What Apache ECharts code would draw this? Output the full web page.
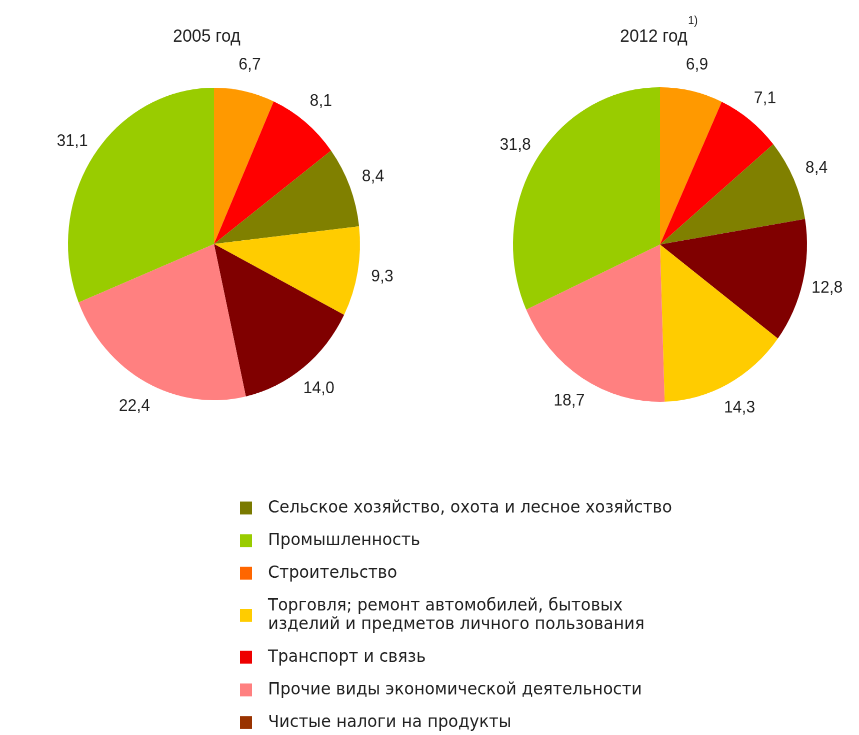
<!DOCTYPE html>
<html>
<head>
<meta charset="utf-8">
<script src="https://cdn.jsdelivr.net/npm/echarts@6/dist/echarts.min.js"></script>
<style>
html,body{margin:0;padding:0;background:#fff;width:859px;height:735px;overflow:hidden;}
#wrap{width:859px;height:735px;position:relative;overflow:hidden;}
#main{position:absolute;left:0;top:0;width:859px;height:687px;transform:scaleY(1.07);transform-origin:0 0;}
</style>
</head>
<body>
<div id="wrap"><div id="main"></div></div>
<script>
// ---- data ----
const categories = [
  'Сельское хозяйство, охота и лесное хозяйство',
  'Промышленность',
  'Строительство',
  'Торговля; ремонт автомобилей, бытовых изделий и предметов личного пользования',
  'Транспорт и связь',
  'Прочие виды экономической деятельности',
  'Чистые налоги на продукты'
];
const years = ['2005 год', '2012 год'];
const footnote = '1)';
// slice order (clockwise from top) as category indices, and values
const order2005 = [2, 4, 0, 3, 6, 5, 1];
const values2005 = [6.7, 8.1, 8.4, 9.3, 14.0, 22.4, 31.1];
const order2012 = [2, 4, 0, 6, 3, 5, 1];
const values2012 = [6.9, 7.1, 8.4, 12.8, 14.3, 18.7, 31.8];

// ---- styles ----
const FONT = 'Liberation Sans, Arial, sans-serif';
const sliceColors = ['#808000', '#99cc00', '#ff9900', '#ffcc00', '#ff0000', '#ff8080', '#800000'];
const legendColors = ['#7a7a00', '#99cc00', '#ff6600', '#ffcc00', '#ee0000', '#ff8080', '#993300'];
const colorOf = {};
categories.forEach((c, i) => colorOf[c] = sliceColors[i]);

function pieData(order, values) {
  return order.map((ci, k) => ({ name: categories[ci], value: values[k] }));
}

const labelLayout = function (p) {
  const pts = p.labelLinePoints;
  if (!pts || pts.length < 2) return {};
  const dx = pts[1][0] - pts[0][0], dy = pts[1][1] - pts[0][1];
  const len = Math.hypot(dx, dy) || 1;
  const ux = dx / len, uy = dy / len;
  const d = 25;
  return { x: pts[0][0] + ux * d, y: pts[0][1] + uy * d, align: 'center', verticalAlign: 'middle' };
};

function pieSeries(center, radius, order, values) {
  return {
    type: 'pie',
    center: center,
    radius: radius,
    startAngle: 90,
    clockwise: true,
    avoidLabelOverlap: false,
    data: pieData(order, values),
    itemStyle: { color: p => colorOf[p.name], borderWidth: 0 },
    label: {
      show: true,
      position: 'outside',
      formatter: p => p.value.toFixed(1).replace('.', ','),
      fontFamily: FONT,
      fontSize: 16,
      color: '#222'
    },
    labelLine: { show: true, length: 10, length2: 0, lineStyle: { opacity: 0, width: 0 } },
    labelLayout: labelLayout,
    emphasis: { disabled: true }
  };
}

const chart = echarts.init(document.getElementById('main'), null, { renderer: 'canvas', devicePixelRatio: 2 });
chart.setOption({
  animation: false,
  backgroundColor: '#fff',
  title: [
    { text: years[0], left: 168, top: 21, textStyle: { fontFamily: FONT, fontSize: 17, fontWeight: 'normal', color: '#222' } },
    { text: years[1], left: 615, top: 21, textStyle: { fontFamily: FONT, fontSize: 17, fontWeight: 'normal', color: '#222' } },
    { text: footnote, left: 683, top: 9, textStyle: { fontFamily: FONT, fontSize: 11, fontWeight: 'normal', color: '#222' } }
  ],
  legend: {
    orient: 'vertical',
    left: 235,
    top: 461,
    height: 220,
    itemWidth: 12,
    itemHeight: 12,
    itemGap: 13,
    icon: 'rect',
    selectedMode: false,
    formatter: n => n.replace('бытовых ', 'бытовых\n'),
    textStyle: { fontFamily: 'DejaVu Sans, sans-serif', fontSize: 16.3, color: '#222', lineHeight: 17.5, padding: [0, 0, 0, 11] },
    data: categories.map((c, i) => ({ name: c, itemStyle: { color: legendColors[i] } }))
  },
  series: [
    pieSeries([214, 228], 146, order2005, values2005),
    pieSeries([660, 228.5], 147, order2012, values2012)
  ]
});
</script>
</body>
</html>
